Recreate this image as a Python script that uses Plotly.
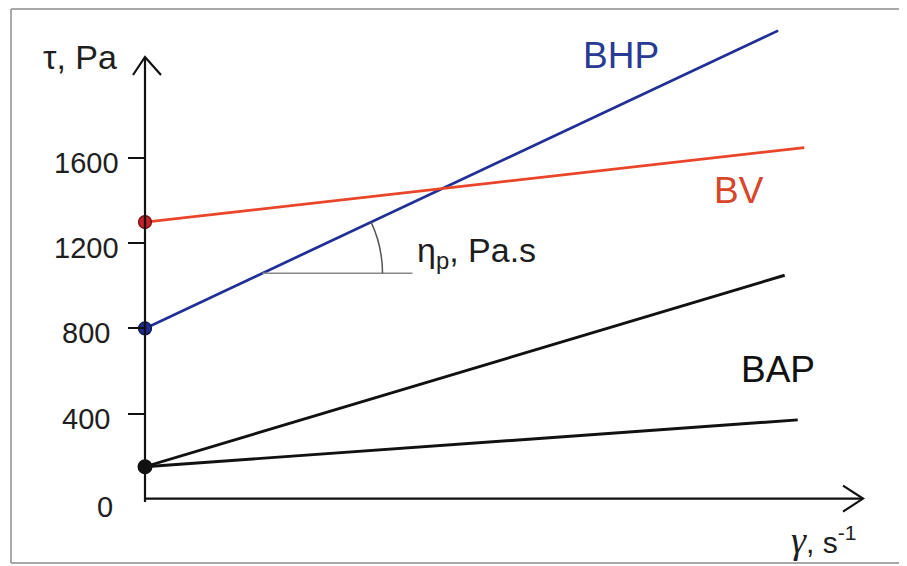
import numpy as np
import plotly.graph_objects as go

# ---------------- data ----------------
bhp_rate = [0, 97]
bhp_stress = [800, 2200]
bv_rate = [0, 101]
bv_stress = [1300, 1650]
bap_high_rate = [0, 98]
bap_high_stress = [150, 1050]
bap_low_rate = [0, 100]
bap_low_stress = [150, 370]
y_ticks = [0, 400, 800, 1200, 1600]
series_names = ["BHP", "BV", "BAP"]

# ---------------- layout constants ----------------
OFF = 8                      # page body margin of the html page
W, H = 907 - OFF, 566 - OFF
ML, MR, MT, MB = 137, 44, 12, 61
X_RANGE = [0, 110]
Y_RANGE = [-30, 2250]
PW, PH = W - ML - MR, H - MT - MB
FONT = "Arial, Liberation Sans, sans-serif"

BLUE = "#1f2f96"
RED = "#e8452a"
BLACK = "#111111"
TEXT = "#1e1e1e"


def px(xp):  # screen pixel x -> paper
    return (xp - OFF - ML) / PW


def py(yp):  # screen pixel y -> paper
    return (H - MB - (yp - OFF)) / PH


def ypaper(v):  # data y -> paper
    return (v - Y_RANGE[0]) / (Y_RANGE[1] - Y_RANGE[0])


fig = go.Figure()

fig.add_trace(go.Scatter(x=bhp_rate, y=bhp_stress, mode="lines",
                         line=dict(color=BLUE, width=2.7), hoverinfo="skip"))
fig.add_trace(go.Scatter(x=bv_rate, y=bv_stress, mode="lines",
                         line=dict(color=RED, width=2.7), hoverinfo="skip"))
fig.add_trace(go.Scatter(x=bap_high_rate, y=bap_high_stress, mode="lines",
                         line=dict(color=BLACK, width=2.9), hoverinfo="skip"))
fig.add_trace(go.Scatter(x=bap_low_rate, y=bap_low_stress, mode="lines",
                         line=dict(color=BLACK, width=2.9), hoverinfo="skip"))
# yield-point dots
fig.add_trace(go.Scatter(x=[bv_rate[0]], y=[bv_stress[0]], mode="markers", cliponaxis=False,
                         marker=dict(size=13, color="#c4202a", line=dict(color="#6a1010", width=1.2)),
                         hoverinfo="skip"))
fig.add_trace(go.Scatter(x=[bhp_rate[0]], y=[bhp_stress[0]], mode="markers", cliponaxis=False,
                         marker=dict(size=13, color="#1f2a8c", line=dict(color="#0d1450", width=1.2)),
                         hoverinfo="skip"))
fig.add_trace(go.Scatter(x=[bap_low_rate[0]], y=[bap_low_stress[0]], mode="markers", cliponaxis=False,
                         marker=dict(size=15, color=BLACK), hoverinfo="skip"))

shapes = []
# outer frame (top, left, bottom)
frame = dict(color="#8c8c8c", width=1.5)
shapes.append(dict(type="line", xref="paper", yref="paper", x0=px(11), x1=px(910), y0=py(9), y1=py(9), line=frame))
shapes.append(dict(type="line", xref="paper", yref="paper", x0=px(11), x1=px(11), y0=py(9), y1=py(563), line=frame))
shapes.append(dict(type="line", xref="paper", yref="paper", x0=px(11), x1=px(910), y0=py(563), y1=py(563), line=frame))

axis_line = dict(color=BLACK, width=2.2)
y0p = ypaper(0)
# y axis with arrow
shapes.append(dict(type="line", xref="paper", yref="paper", x0=0, x1=0, y0=py(502), y1=py(57), line=axis_line))
shapes.append(dict(type="path", xref="paper", yref="paper", xsizemode="pixel", ysizemode="pixel",
                   xanchor=0, yanchor=py(57), path="M-12,-18 L0,0 L16,-18", line=axis_line))
# x axis with arrow
shapes.append(dict(type="line", xref="paper", yref="paper", x0=0, x1=px(863), y0=y0p, y1=y0p, line=axis_line))
shapes.append(dict(type="path", xref="paper", yref="paper", xsizemode="pixel", ysizemode="pixel",
                   xanchor=px(863), yanchor=y0p, path="M-20,13 L0,0 L-20,-13", line=axis_line))

# plastic-viscosity angle marker on BHP line
anchor_rate = 18
anchor_stress = float(np.interp(anchor_rate, bhp_rate, bhp_stress))
kx = PW / (X_RANGE[1] - X_RANGE[0])
ky = PH / (Y_RANGE[1] - Y_RANGE[0])
slope_px = (bhp_stress[1] - bhp_stress[0]) * ky / ((bhp_rate[1] - bhp_rate[0]) * kx)
theta = np.arctan(slope_px)
r = 120
k = 4 / 3 * np.tan(theta / 4)
p0 = (r, 0)
p1 = (r, k * r)
p3 = (r * np.cos(theta), r * np.sin(theta))
p2 = (p3[0] + k * r * np.sin(theta), p3[1] - k * r * np.cos(theta))
arc_path = "M{:.1f},{:.1f} C{:.1f},{:.1f} {:.1f},{:.1f} {:.1f},{:.1f}".format(*p0, *p1, *p2, *p3)
shapes.append(dict(type="path", xref="x", yref="y", xsizemode="pixel", ysizemode="pixel",
                   xanchor=anchor_rate, yanchor=anchor_stress, path="M0,0 L150,0",
                   line=dict(color="#8a8a8a", width=1.5)))
shapes.append(dict(type="path", xref="x", yref="y", xsizemode="pixel", ysizemode="pixel",
                   xanchor=anchor_rate, yanchor=anchor_stress, path=arc_path,
                   line=dict(color="#555555", width=1.5)))

annotations = []
# y tick labels (centred under the ticks like in the reference)
for v in y_ticks:
    annotations.append(dict(xref="paper", yref="y", x=0, y=v, text=str(v), showarrow=False,
                            xanchor="center", yanchor="middle",
                            xshift=-40 if v == 0 else -59, yshift=-8 if v == 0 else -5,
                            font=dict(family=FONT, size=29, color=TEXT)))
# axis titles
annotations.append(dict(xref="paper", yref="paper", x=px(119), y=py(57), text="τ, Pa",
                        showarrow=False, xanchor="right", yanchor="middle",
                        font=dict(family=FONT, size=34, color=TEXT)))
annotations.append(dict(xref="paper", yref="paper", x=px(789), y=py(540),
                        text="<span style='font-family:Liberation Serif;font-size:38px'><i>γ</i></span>, s<sup>-1</sup>",
                        showarrow=False, xanchor="left", yanchor="middle",
                        font=dict(family=FONT, size=30, color=TEXT)))
# series labels
annotations.append(dict(xref="paper", yref="paper", x=px(621), y=py(56), text=series_names[0],
                        showarrow=False, xanchor="center", yanchor="middle",
                        font=dict(family=FONT, size=37, color="#283a94")))
annotations.append(dict(xref="paper", yref="paper", x=px(739), y=py(191), text=series_names[1],
                        showarrow=False, xanchor="center", yanchor="middle",
                        font=dict(family=FONT, size=37, color="#d8452c")))
annotations.append(dict(xref="paper", yref="paper", x=px(778), y=py(369), text=series_names[2],
                        showarrow=False, xanchor="center", yanchor="middle",
                        font=dict(family=FONT, size=37, color="#111111")))
annotations.append(dict(xref="paper", yref="paper", x=px(415), y=py(253), text="η<sub>p</sub>, Pa.s",
                        showarrow=False, xanchor="left", yanchor="middle",
                        font=dict(family=FONT, size=34, color=TEXT)))

fig.update_layout(
    width=W, height=H,
    margin=dict(l=ML, r=MR, t=MT, b=MB),
    paper_bgcolor="white", plot_bgcolor="white",
    showlegend=False,
    shapes=shapes, annotations=annotations,
    xaxis=dict(range=X_RANGE, showgrid=False, zeroline=False, showticklabels=False,
               ticks="", showline=False, fixedrange=True),
    yaxis=dict(range=Y_RANGE, showgrid=False, zeroline=False, showticklabels=False,
               tickmode="array", tickvals=y_ticks[1:], ticks="outside", ticklen=16,
               tickwidth=2.2, tickcolor=BLACK, showline=False, fixedrange=True),
)

fig.write_html("out.html")
